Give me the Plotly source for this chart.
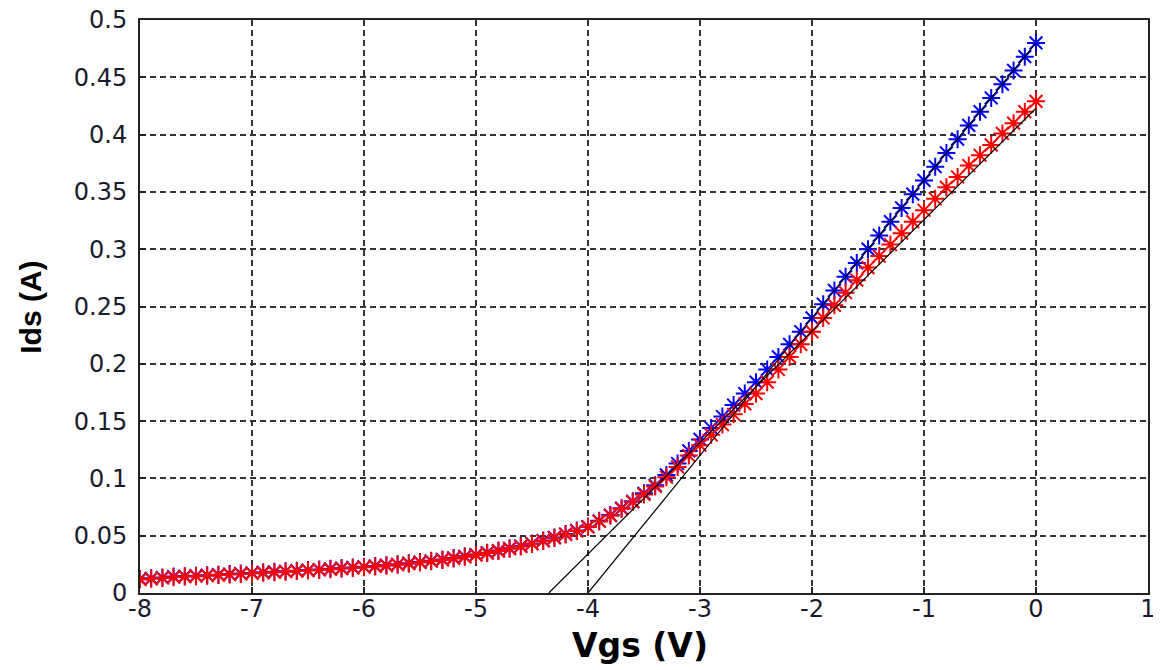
import plotly.graph_objects as go

# Gate voltage (V), 0.1 V steps from -8 to 0
vgs = [round(-8.0 + 0.1 * i, 1) for i in range(81)]

# Blue series (Ids, A)
ids_blue = [
    0.0122, 0.0128, 0.0135, 0.0143, 0.0147, 0.0151, 0.0155, 0.0160, 0.0165, 0.0170,
    0.0175, 0.0180, 0.0185, 0.0190, 0.0195, 0.0200, 0.0205, 0.0211, 0.0217, 0.0223,
    0.0229, 0.0236, 0.0243, 0.0251, 0.0260, 0.0270, 0.0281, 0.0293, 0.0306, 0.0320,
    0.0335, 0.0352, 0.0370, 0.0390, 0.0410, 0.0432, 0.0458, 0.0485, 0.0515, 0.0545,
    0.0580, 0.0630, 0.0680, 0.0740, 0.0800, 0.0870, 0.0940, 0.1030, 0.1130, 0.1240,
    0.1340, 0.1440, 0.1540, 0.1640, 0.1740, 0.1840, 0.1950, 0.2060, 0.2170, 0.2280,
    0.2400, 0.2520, 0.2640, 0.2760, 0.2880, 0.3000, 0.3120, 0.3240, 0.3360, 0.3480,
    0.3600, 0.3720, 0.3840, 0.3960, 0.4080, 0.4200, 0.4320, 0.4440, 0.4560, 0.4680,
    0.4800,
]

# Red series (Ids, A)
ids_red = [
    0.0118, 0.0124, 0.0131, 0.0138, 0.0143, 0.0147, 0.0151, 0.0156, 0.0161, 0.0166,
    0.0171, 0.0176, 0.0181, 0.0186, 0.0191, 0.0196, 0.0201, 0.0207, 0.0213, 0.0219,
    0.0225, 0.0232, 0.0239, 0.0247, 0.0256, 0.0266, 0.0277, 0.0289, 0.0302, 0.0316,
    0.0331, 0.0348, 0.0366, 0.0386, 0.0406, 0.0428, 0.0454, 0.0481, 0.0511, 0.0541,
    0.0575, 0.0625, 0.0675, 0.0735, 0.0795, 0.0860, 0.0930, 0.1010, 0.1100, 0.1200,
    0.1290, 0.1380, 0.1470, 0.1560, 0.1650, 0.1740, 0.1840, 0.1950, 0.2060, 0.2170,
    0.2280, 0.2400, 0.2510, 0.2620, 0.2730, 0.2840, 0.2940, 0.3040, 0.3140, 0.3240,
    0.3340, 0.3440, 0.3540, 0.3630, 0.3730, 0.3820, 0.3910, 0.4010, 0.4100, 0.4200,
    0.4290,
]

# Linear extrapolation lines (black)
fit_blue_x = [-4.0, 0.0]
fit_blue_y = [0.0, 0.48]
fit_red_x = [-4.35, 0.0]
fit_red_y = [0.0, 0.423]

x_ticks = [-8, -7, -6, -5, -4, -3, -2, -1, 0, 1]
x_ticktext = ["-8", "-7", "-6", "-5", "-4", "-3", "-2", "-1", "0", "1"]
y_ticks = [0, 0.05, 0.1, 0.15, 0.2, 0.25, 0.3, 0.35, 0.4, 0.45, 0.5]
y_ticktext = ["0", "0.05", "0.1", "0.15", "0.2", "0.25", "0.3", "0.35", "0.4", "0.45", "0.5"]

fig = go.Figure()
fig.add_trace(go.Scatter(
    x=vgs, y=ids_blue, mode="markers", name="blue",
    marker=dict(symbol="asterisk-open", size=15, color="#0000ff",
                line=dict(color="#0000ff", width=2)),
))
fig.add_trace(go.Scatter(
    x=vgs, y=ids_red, mode="markers", name="red",
    marker=dict(symbol="asterisk-open", size=15, color="#ff0000",
                line=dict(color="#ff0000", width=2)),
))
fig.add_trace(go.Scatter(x=fit_blue_x, y=fit_blue_y, mode="lines",
                         line=dict(color="black", width=1.2)))
fig.add_trace(go.Scatter(x=fit_red_x, y=fit_red_y, mode="lines",
                         line=dict(color="black", width=1.2)))

tickfont = dict(family="DejaVu Sans", size=24, color="#1a1a2e")
axis_common = dict(
    showgrid=True, gridcolor="#333333", gridwidth=1.5, griddash="6px,4px",
    showline=True, linecolor="#222222", linewidth=2, mirror=True,
    ticks="inside", ticklen=6, tickcolor="#222222", tickwidth=1.5,
    zeroline=False, tickfont=tickfont, automargin=False,
    ticklabeloverflow="allow",
)

fig.update_xaxes(range=[-8, 1], tickvals=x_ticks, ticktext=x_ticktext,
                 ticklabelstandoff=-7, **axis_common)
fig.update_yaxes(range=[0, 0.5], tickvals=y_ticks, ticktext=y_ticktext,
                 ticklabelstandoff=6, **axis_common)

fig.update_layout(
    width=1153, height=662,
    margin=dict(l=132, r=13, t=12, b=77),
    paper_bgcolor="white", plot_bgcolor="white",
    showlegend=False,
    annotations=[
        dict(text="<b>Vgs (V)</b>", xref="paper", yref="paper", x=0.496, y=-0.0908,
             xanchor="center", yanchor="middle", showarrow=False,
             font=dict(family="DejaVu Sans", size=33, color="black")),
        dict(text="<b>Ids (A)</b>", xref="paper", yref="paper", x=-0.108, y=0.498,
             xanchor="center", yanchor="middle", showarrow=False, textangle=-90,
             font=dict(family="Liberation Sans", size=30, color="black")),
    ],
)

fig.write_html("out.html")
